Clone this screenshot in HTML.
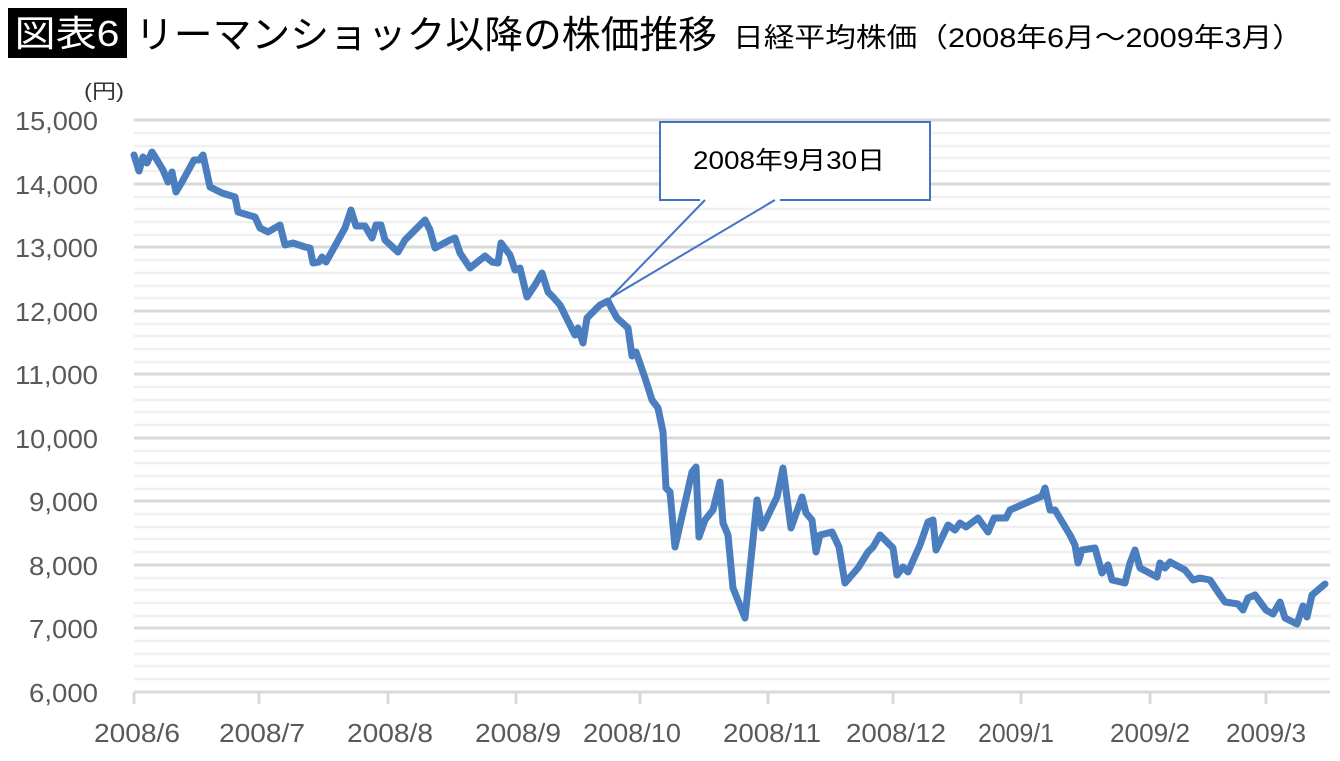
<!DOCTYPE html>
<html><head><meta charset="utf-8"><style>
body{margin:0;background:#fff;}
svg{display:block;font-family:"Liberation Sans","Noto Sans CJK JP",sans-serif;}
</style></head><body>
<svg width="1340" height="761" viewBox="0 0 1340 761" xmlns="http://www.w3.org/2000/svg">
<rect width="1340" height="761" fill="#fff"/>
<rect x="8" y="8" width="119" height="50" fill="#000"/>
<text x="67" y="46" fill="#fff" font-size="36" text-anchor="middle" textLength="105" lengthAdjust="spacingAndGlyphs">図表6</text>
<text x="135" y="48" fill="#000" font-size="38" textLength="582" lengthAdjust="spacingAndGlyphs">リーマンショック以降の株価推移</text>
<text x="733" y="47" fill="#000" font-size="27" textLength="570" lengthAdjust="spacingAndGlyphs">日経平均株価（2008年6月～2009年3月）</text>
<text x="84" y="98" fill="#333" font-size="20" textLength="40" lengthAdjust="spacingAndGlyphs">(円)</text>
<g stroke="#f0f0f0" stroke-width="2.5">
<path d="M134 133H1330M134 146H1330M134 158H1330M134 171H1330M134 197H1330M134 209H1330M134 222H1330M134 235H1330M134 260H1330M134 273H1330M134 286H1330M134 298H1330M134 324H1330M134 336H1330M134 349H1330M134 362H1330M134 387H1330M134 400H1330M134 412H1330M134 425H1330M134 451H1330M134 463H1330M134 476H1330M134 489H1330M134 514H1330M134 527H1330M134 539H1330M134 552H1330M134 578H1330M134 590H1330M134 603H1330M134 616H1330M134 641H1330M134 654H1330M134 666H1330M134 679H1330"/>
</g>
<g stroke="#d9d9d9" stroke-width="3">
<path d="M134 120H1330M134 184H1330M134 247H1330M134 311H1330M134 374H1330M134 438H1330M134 501H1330M134 565H1330M134 628H1330M134 692H1330"/>
<path d="M134 692v12M259 692v12M388 692v12M516 692v12M640 692v12M768 692v12M893 692v12M1021 692v12M1150 692v12M1266 692v12"/>
</g>
<g fill="#595959" font-size="26" text-anchor="end">
<text x="98" y="130" textLength="83" lengthAdjust="spacingAndGlyphs">15,000</text><text x="98" y="194" textLength="83" lengthAdjust="spacingAndGlyphs">14,000</text><text x="98" y="257" textLength="83" lengthAdjust="spacingAndGlyphs">13,000</text><text x="98" y="321" textLength="83" lengthAdjust="spacingAndGlyphs">12,000</text><text x="98" y="384" textLength="83" lengthAdjust="spacingAndGlyphs">11,000</text><text x="98" y="448" textLength="83" lengthAdjust="spacingAndGlyphs">10,000</text><text x="98" y="511" textLength="69" lengthAdjust="spacingAndGlyphs">9,000</text><text x="98" y="575" textLength="69" lengthAdjust="spacingAndGlyphs">8,000</text><text x="98" y="638" textLength="69" lengthAdjust="spacingAndGlyphs">7,000</text><text x="98" y="702" textLength="69" lengthAdjust="spacingAndGlyphs">6,000</text>
</g>
<g fill="#595959" font-size="26" text-anchor="middle">
<text x="137" y="742" textLength="86" lengthAdjust="spacingAndGlyphs">2008/6</text><text x="262" y="742" textLength="86" lengthAdjust="spacingAndGlyphs">2008/7</text><text x="390" y="742" textLength="86" lengthAdjust="spacingAndGlyphs">2008/8</text><text x="518" y="742" textLength="86" lengthAdjust="spacingAndGlyphs">2008/9</text><text x="632" y="742" textLength="98" lengthAdjust="spacingAndGlyphs">2008/10</text><text x="772" y="742" textLength="98" lengthAdjust="spacingAndGlyphs">2008/11</text><text x="896" y="742" textLength="100" lengthAdjust="spacingAndGlyphs">2008/12</text><text x="1016" y="742" textLength="76" lengthAdjust="spacingAndGlyphs">2009/1</text><text x="1150" y="742" textLength="80" lengthAdjust="spacingAndGlyphs">2009/2</text><text x="1266" y="742" textLength="80" lengthAdjust="spacingAndGlyphs">2009/3</text>
</g>
<polyline fill="none" stroke="#4a7ebf" stroke-width="7" stroke-linejoin="round" stroke-linecap="round" points="134,155 139,171 143,157 147,163 152,152 157,160 163,170 168,182 172,172 176,192 182,182 194,160 199,160 203,155 210,187 222,193 235,197 238,212 255,217 260,228 268,232 280,225 285,245 293,243 305,247 310,248 313,263 319,262 322,257 326,262 345,228 351,210 356,226 365,226 372,238 376,225 381,225 385,240 398,252 405,240 410,235 425,220 430,230 435,248 450,240 455,238 460,253 470,268 485,256 492,262 498,263 501,243 510,255 515,270 520,268 527,297 535,285 542,273 548,292 553,297 560,305 575,335 578,328 583,343 587,318 600,305 608,301 612,309 617,318 628,328 632,356 636,352 645,378 652,400 658,408 663,432 666,488 670,492 675,547 692,472 696,467 699,537 705,520 713,510 720,482 723,523 728,535 733,588 745,618 757,500 762,528 777,497 783,468 791,528 802,497 806,513 812,520 816,552 820,535 832,532 839,547 845,583 858,568 868,552 873,547 880,535 888,543 893,548 897,575 903,567 908,572 920,545 928,522 933,520 936,550 948,525 955,530 960,523 966,527 978,518 988,532 994,518 1006,518 1010,510 1042,496 1045,488 1050,510 1055,510 1070,535 1075,545 1078,563 1082,550 1095,548 1102,573 1108,565 1112,580 1125,583 1130,563 1135,550 1140,568 1157,577 1160,563 1165,568 1170,562 1185,570 1193,580 1200,578 1210,580 1220,595 1225,602 1238,604 1243,610 1248,598 1255,595 1266,610 1273,614 1280,602 1285,618 1297,624 1303,606 1307,617 1312,595 1325,584"/>
<path d="M705 200L610 298L775 200" fill="none" stroke="#4472c4" stroke-width="2"/>
<rect x="660" y="122" width="270" height="78" fill="#fff" stroke="#4472c4" stroke-width="2"/>
<rect x="700" y="195" width="80" height="8" fill="#fff"/>
<path d="M705 200L700 205M775 200L768 204" stroke="#4472c4" stroke-width="2"/>
<text x="789" y="169" fill="#000" font-size="25" text-anchor="middle" textLength="192" lengthAdjust="spacingAndGlyphs">2008年9月30日</text>
</svg>
</body></html>
